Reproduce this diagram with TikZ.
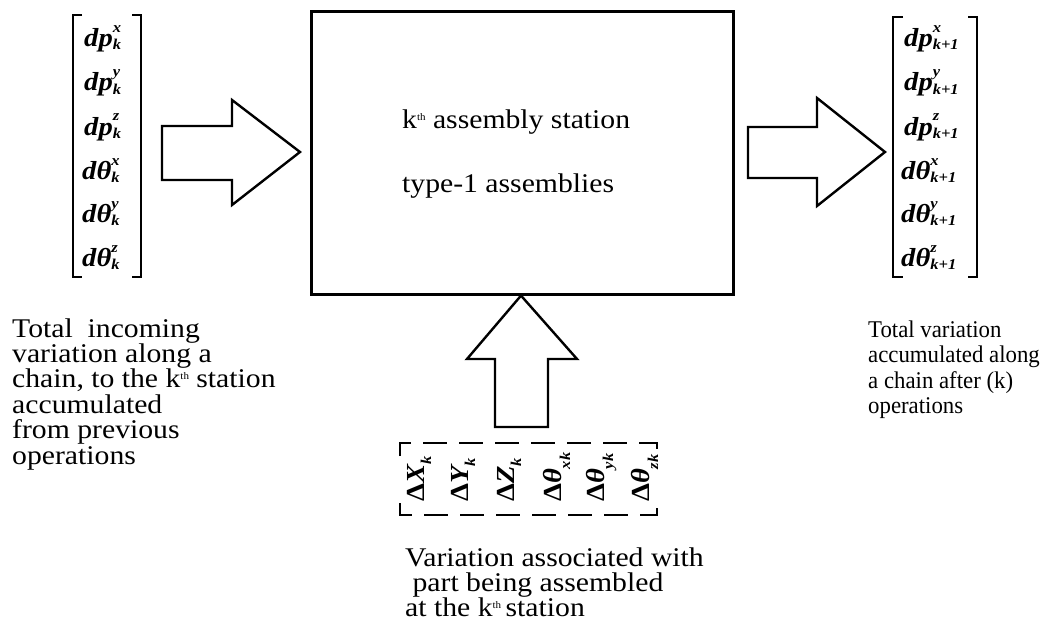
\documentclass[tikz,border=0pt]{standalone}
\usepackage{fontspec}
\setmainfont[FakeStretch=1.1]{Liberation Serif}
\newfontfamily\narrowserif[FakeStretch=0.95]{Liberation Serif}
\newcommand\supfont{\fontsize{15}{15}\selectfont}
\newcommand\sups[2]{\rlap{\raisebox{14pt}{\supfont #1}}\raisebox{-3pt}{\supfont #2}}
\newcommand\mylines[1]{\vtop{\halign{##\hfil\cr #1\crcr}}}
\newcommand\kth{k\raisebox{8pt}{\fontsize{10}{10}\selectfont th}}
\begin{document}
\begin{tikzpicture}[x=1pt,y=-1pt,
  blockarrow/.style={draw=black, line width=2.4pt, line join=miter, fill=white},
  stationbox/.style={draw=black, line width=2.6pt, inner sep=0pt, anchor=north west},
  bracketline/.style={draw=black, line width=2pt},
  dashbracket/.style={draw=black, line width=1.8pt, dash pattern=on 24pt off 12pt},
  txt/.style={font=\fontsize{27}{25.4}\selectfont, inner sep=0pt, anchor=base west},
  narrowtxt/.style={font=\narrowserif\fontsize{24}{25.6}\selectfont, inner sep=0pt, anchor=base west},
  ent/.style={font=\fontsize{26}{26}\selectfont\bfseries\itshape, inner sep=0pt, anchor=base west}]
\path[fill=white] (0,0) rectangle (1047,634);
\useasboundingbox (0,0) rectangle (1047,634);

% station box
\node[stationbox, minimum width=422pt, minimum height=283pt] (box) at (310,10) {};
\node[txt] (title) at (402,128) {\kth\ assembly station};
\node[txt] (kind) at (402,192) {type-1 assemblies};

% left matrix
\draw[bracketline] (82,15) -- (73,15) -- (73,277) -- (82,277);
\draw[bracketline] (132,15) -- (141,15) -- (141,277) -- (132,277);
\node[ent] (l1) at (84,47) {dp\sups{x}{k}};
\node[ent] (l2) at (84,91) {dp\sups{y}{k}};
\node[ent] (l3) at (84,135) {dp\sups{z}{k}};
\node[ent] (l4) at (82,179) {dθ\sups{x}{k}};
\node[ent] (l5) at (82,222) {dθ\sups{y}{k}};
\node[ent] (l6) at (82,266) {dθ\sups{z}{k}};

% right matrix
\draw[bracketline] (903,17) -- (893,17) -- (893,277) -- (903,277);
\draw[bracketline] (968,17) -- (977,17) -- (977,277) -- (968,277);
\node[ent] (r1) at (904,47) {dp\sups{x}{k+1}};
\node[ent] (r2) at (904,91) {dp\sups{y}{k+1}};
\node[ent] (r3) at (904,135) {dp\sups{z}{k+1}};
\node[ent] (r4) at (901,179) {dθ\sups{x}{k+1}};
\node[ent] (r5) at (901,222) {dθ\sups{y}{k+1}};
\node[ent] (r6) at (901,266) {dθ\sups{z}{k+1}};

% bottom (rotated) vector
\draw[dashbracket] (400,456) -- (400,443) -- (657,443) -- (657,456);
\draw[dashbracket] (400,503) -- (400,515) -- (657,515) -- (657,503);
\node[ent, rotate=90] (b1) at (424,502) {{\upshape Δ}X\raisebox{-7pt}{\supfont k}};
\node[ent, rotate=90] (b2) at (468,502) {{\upshape Δ}Y\raisebox{-7pt}{\supfont k}};
\node[ent, rotate=90] (b3) at (514,502) {{\upshape Δ}Z\raisebox{-7pt}{\supfont k}};
\node[ent, rotate=90] (b4) at (561,502) {{\upshape Δ}θ\raisebox{-9pt}{\supfont xk}};
\node[ent, rotate=90] (b5) at (604,502) {{\upshape Δ}θ\raisebox{-9pt}{\supfont yk}};
\node[ent, rotate=90] (b6) at (649,502) {{\upshape Δ}θ\raisebox{-9pt}{\supfont zk}};

% block arrows
\coordinate (ltip) at (300,152);
\draw[blockarrow] (162,126) -- (232,126) -- (232,100) -- (ltip) -- (232,205) -- (232,180) -- (162,180) -- cycle;
\coordinate (rtip) at (885,152);
\draw[blockarrow] (748,127) -- (817,127) -- (817,98) -- (rtip) -- (817,206) -- (817,178) -- (748,178) -- cycle;
\coordinate (btip) at (box.south -| 521,0);
\draw[blockarrow] (495,427) -- (495,359) -- (467,359) -- (btip) -- (577,359) -- (548,359) -- (548,427) -- cycle;

% captions
\node[txt] (incoming) at (12,337) {\mylines{Total\ \ incoming\cr variation along a\cr chain, to the \kth\ station\cr accumulated\cr from previous\cr operations}};
\node[narrowtxt] (accum) at (868,337) {\mylines{Total variation\cr accumulated along\cr a chain after (k)\cr operations}};
\node[txt] (partvar) at (405,566) {\mylines{Variation associated with\cr \ part being assembled\cr at the \kth\,station}};
\end{tikzpicture}
\end{document}
